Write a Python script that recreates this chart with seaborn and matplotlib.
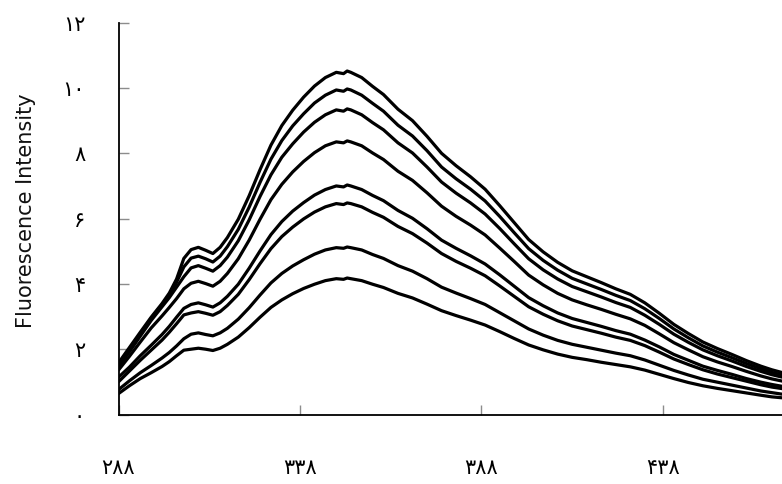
import matplotlib
matplotlib.use("Agg")
import matplotlib.pyplot as plt
import numpy as np
import pandas as pd
import seaborn as sns

# ---------------- data ----------------
wavelength = [288, 291, 294, 297, 300, 302, 304, 306, 308, 310, 312, 314, 316, 318, 321, 324, 327, 330,
              333, 336, 339, 342, 345, 348, 350, 351, 352, 355, 358, 361, 365, 369, 373, 377, 381, 385,
              389, 393, 397, 401, 405, 409, 413, 417, 421, 425, 429, 433, 437, 441, 445, 449, 453, 457,
              461, 465, 468, 471]

c1 = [1.58, 2.05, 2.52, 2.98, 3.40, 3.72, 4.15, 4.78,
      5.05, 5.12, 5.03, 4.93, 5.12, 5.42, 5.98, 6.70, 7.50, 8.25,
      8.85, 9.32, 9.72, 10.06, 10.32, 10.48, 10.44, 10.52, 10.48, 10.32,
      10.05, 9.80, 9.35, 9.00, 8.52, 8.00, 7.62, 7.28, 6.90, 6.40,
      5.88, 5.36, 4.98, 4.66, 4.40, 4.22, 4.04, 3.85, 3.68, 3.42,
      3.10, 2.76, 2.48, 2.22, 2.02, 1.84, 1.65, 1.48, 1.37, 1.28]
c2 = [1.52, 1.98, 2.46, 2.95, 3.36, 3.65, 4.05, 4.52,
      4.79, 4.85, 4.77, 4.67, 4.85, 5.14, 5.67, 6.35, 7.11, 7.82,
      8.39, 8.84, 9.21, 9.54, 9.78, 9.94, 9.90, 9.97, 9.94, 9.78,
      9.53, 9.29, 8.86, 8.53, 8.08, 7.58, 7.22, 6.90, 6.54, 6.07,
      5.57, 5.08, 4.72, 4.42, 4.17, 4.00, 3.83, 3.65, 3.49, 3.24,
      2.94, 2.62, 2.35, 2.10, 1.91, 1.74, 1.56, 1.40, 1.29, 1.20]
c3 = [1.46, 1.92, 2.40, 2.88, 3.30, 3.58, 3.90, 4.22,
      4.49, 4.56, 4.48, 4.39, 4.56, 4.82, 5.32, 5.96, 6.68, 7.34,
      7.88, 8.29, 8.65, 8.95, 9.18, 9.33, 9.29, 9.36, 9.33, 9.18,
      8.94, 8.72, 8.32, 8.01, 7.58, 7.12, 6.78, 6.48, 6.14, 5.70,
      5.23, 4.77, 4.43, 4.15, 3.92, 3.76, 3.60, 3.43, 3.28, 3.04,
      2.76, 2.46, 2.21, 1.98, 1.80, 1.64, 1.47, 1.32, 1.22, 1.14]
c4 = [1.36, 1.78, 2.22, 2.65, 3.02, 3.28, 3.55, 3.85,
      4.02, 4.08, 4.01, 3.93, 4.08, 4.32, 4.77, 5.34, 5.98, 6.58,
      7.05, 7.43, 7.75, 8.02, 8.23, 8.35, 8.32, 8.38, 8.35, 8.23,
      8.01, 7.81, 7.45, 7.17, 6.79, 6.38, 6.07, 5.80, 5.50, 5.10,
      4.69, 4.27, 3.97, 3.71, 3.51, 3.36, 3.22, 3.07, 2.93, 2.73,
      2.47, 2.20, 1.98, 1.77, 1.61, 1.47, 1.32, 1.18, 1.09, 1.02]
c5 = [1.14, 1.45, 1.80, 2.12, 2.45, 2.70, 2.98, 3.25,
      3.37, 3.42, 3.36, 3.29, 3.42, 3.62, 3.99, 4.48, 5.01, 5.51,
      5.91, 6.23, 6.49, 6.72, 6.89, 7.00, 6.97, 7.03, 7.00, 6.89,
      6.71, 6.55, 6.25, 6.01, 5.69, 5.34, 5.09, 4.86, 4.61, 4.28,
      3.93, 3.58, 3.33, 3.11, 2.94, 2.82, 2.70, 2.57, 2.46, 2.28,
      2.07, 1.84, 1.66, 1.48, 1.35, 1.23, 1.10, 0.99, 0.92, 0.86]
c6 = [1.00, 1.33, 1.66, 1.97, 2.28, 2.52, 2.78, 3.05,
      3.11, 3.15, 3.10, 3.04, 3.15, 3.34, 3.68, 4.13, 4.62, 5.08,
      5.45, 5.74, 5.99, 6.20, 6.36, 6.46, 6.43, 6.48, 6.46, 6.36,
      6.19, 6.04, 5.76, 5.54, 5.25, 4.93, 4.69, 4.48, 4.25, 3.94,
      3.62, 3.30, 3.07, 2.87, 2.71, 2.60, 2.49, 2.37, 2.27, 2.11,
      1.91, 1.70, 1.53, 1.37, 1.24, 1.13, 1.02, 0.91, 0.84, 0.79]
c7 = [0.76, 1.03, 1.28, 1.50, 1.73, 1.90, 2.10, 2.32,
      2.46, 2.50, 2.45, 2.41, 2.50, 2.64, 2.92, 3.27, 3.66, 4.03,
      4.32, 4.55, 4.74, 4.91, 5.04, 5.11, 5.09, 5.13, 5.11, 5.04,
      4.90, 4.78, 4.56, 4.39, 4.16, 3.90, 3.72, 3.55, 3.37, 3.12,
      2.87, 2.62, 2.43, 2.27, 2.15, 2.06, 1.97, 1.88, 1.80, 1.67,
      1.51, 1.35, 1.21, 1.08, 0.99, 0.90, 0.81, 0.72, 0.67, 0.62]
c8 = [0.64, 0.88, 1.10, 1.28, 1.47, 1.62, 1.80, 1.97,
      2.00, 2.03, 2.00, 1.96, 2.03, 2.15, 2.37, 2.66, 2.98, 3.28,
      3.51, 3.70, 3.86, 3.99, 4.10, 4.16, 4.14, 4.18, 4.16, 4.10,
      3.99, 3.89, 3.71, 3.57, 3.38, 3.18, 3.03, 2.89, 2.74, 2.54,
      2.33, 2.13, 1.98, 1.85, 1.75, 1.68, 1.60, 1.53, 1.46, 1.36,
      1.23, 1.10, 0.98, 0.88, 0.80, 0.73, 0.66, 0.59, 0.54, 0.51]

series_names = ["c1", "c2", "c3", "c4", "c5", "c6", "c7", "c8"]
series_values = [c1, c2, c3, c4, c5, c6, c7, c8]

x_ticks = [288, 338, 388, 438]
x_tick_labels = ["۲۸۸", "۳۳۸", "۳۸۸", "۴۳۸"]
y_ticks = [0, 2, 4, 6, 8, 10, 12]
y_tick_labels = ["۰", "۲", "۴", "۶", "۸", "۱۰", "۱۲"]
y_label = "Fluorescence Intensity"

# ---------------- frame ----------------
rows = []
for name, vals in zip(series_names, series_values):
    for w, v in zip(wavelength, vals):
        rows.append((name, w, v))
df = pd.DataFrame(rows, columns=["series", "wavelength", "intensity"])

sns.set_theme(style="white")
plt.rcParams["font.family"] = ["DejaVu Sans"]

W, H = 782, 484
fig = plt.figure(figsize=(W / 100, H / 100), dpi=100)
ax = fig.add_axes([118.5 / W, (H - 414.5) / H, (W - 118.5) / W, (414.5 - 22.7) / H])

sns.lineplot(data=df, x="wavelength", y="intensity", hue="series",
             palette=["black"] * len(series_names), linewidth=2.3,
             legend=False, estimator=None, sort=True, ax=ax)

ax.set_xlim(288, 470.8)
ax.set_ylim(0, 12)
ax.set_xticks(x_ticks)
ax.set_xticklabels(x_tick_labels, fontsize=15)
ax.set_yticks(y_ticks)
ax.set_yticklabels(y_tick_labels, fontsize=15)
ax.tick_params(axis="both", which="major", direction="in", length=7.5, width=1,
               color="#8c8c8c", labelcolor="black", bottom=True, left=True)
ax.tick_params(axis="y", pad=24)
ax.tick_params(axis="x", pad=31)

for s in ["top", "right"]:
    ax.spines[s].set_visible(False)
for s in ["left", "bottom"]:
    ax.spines[s].set_color("black")
    ax.spines[s].set_linewidth(1.3)

ax.set_xlabel("")
ax.set_ylabel(y_label, fontsize=15, family=["DejaVu Sans"], color="#111111")
ax.yaxis.set_label_coords(-0.125, 0.52)

fig.savefig("out.png", dpi=100, facecolor="white")
